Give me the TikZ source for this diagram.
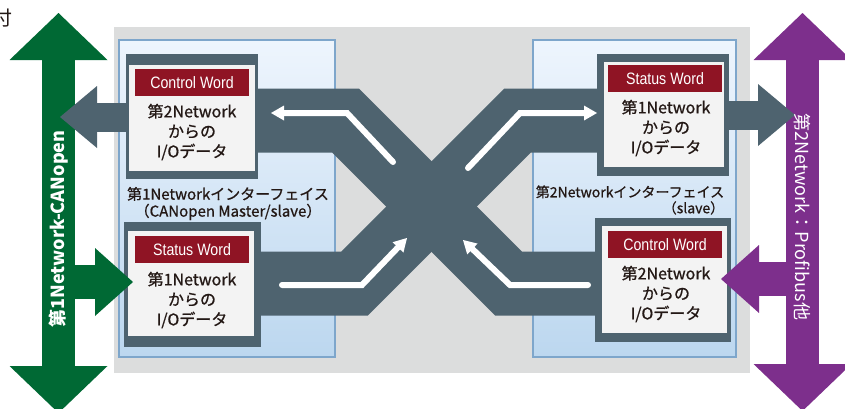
\documentclass[tikz,border=0pt]{standalone}
\usepackage{fontspec}
\setmainfont{Noto Sans CJK JP}
\newfontfamily\jpmid[FakeBold=0.8]{Noto Sans CJK JP}
\newfontfamily\condfont[FakeStretch=0.86]{Liberation Sans}
\usetikzlibrary{arrows.meta}
\definecolor{slate}{RGB}{78,99,111}
\definecolor{netgreen}{RGB}{0,105,52}
\definecolor{netpurple}{RGB}{125,47,140}
\definecolor{wordred}{RGB}{143,20,36}
\definecolor{bggray}{RGB}{220,221,221}
\definecolor{paneltop}{RGB}{238,245,253}
\definecolor{panelbot}{RGB}{188,215,239}
\definecolor{panelline}{RGB}{126,166,203}
\definecolor{cardfill}{RGB}{243,243,243}
\definecolor{ink}{RGB}{35,24,21}
\tikzset{
  panel/.style={draw=panelline,line width=1.5pt,top color=paneltop,bottom color=panelbot,inner sep=0pt},
  frame/.style={fill=slate,inner sep=0pt},
  card/.style={fill=cardfill,inner sep=0pt},
  word/.style={fill=wordred,text=white,inner sep=0pt,minimum width=114,minimum height=27,
    font=\condfont\fontsize{16.5}{16.5}\selectfont},
  data/.style={align=center,text=ink,inner sep=0pt,font=\jpmid\fontsize{16}{20}\selectfont},
  iflabel/.style={text=ink,inner sep=0pt,font=\jpmid\fontsize{15}{17}\selectfont},
  band/.style={draw=slate,line width=64pt,line join=miter},
  flow/.style={draw=white,line width=6pt,line cap=round,
    -{Triangle[length=13pt 0 0,width=15pt 0 0,line width=0pt]}},
  outarrow/.style={draw=slate,line width=29pt,-{Triangle[length=37pt 0 0,width=62pt 0 0,line width=0pt]}},
  tap/.style={line width=34pt,-{Triangle[length=38pt 0 0,width=68pt 0 0,line width=0pt]}},
  bus/.style={line width=33pt,{Triangle[length=47pt 0 0,width=98pt 0 0,line width=0pt]}-{Triangle[length=47pt 0 0,width=98pt 0 0,line width=0pt]}},
  busname/.style={text=white,inner sep=0pt,font=\fontsize{18}{18}\selectfont}
}
\begin{document}
\begin{tikzpicture}[x=1pt,y=-1pt]
\useasboundingbox (0,0) rectangle (845,408);
\node[text=ink,font=\fontsize{20}{20}\selectfont] (cut) at (3,18) {付};
% carrier and interface panels
\fill[bggray] (114,27) rectangle (750,373);
\node[panel,minimum width=216,minimum height=317] (lpanel) at (227,198.5) {};
\node[panel,minimum width=203,minimum height=317] (rpanel) at (634.5,198.5) {};
\node[iflabel,align=center] (lname) at (228,203.5) {第1Networkインターフェイス\\（CANopen Master/slave）};
\node[iflabel,align=right,font=\jpmid\fontsize{14}{16}\selectfont] (rname) at (630,200) {第2Networkインターフェイス\\（slave）};
% data boxes
\node[frame,minimum width=132,minimum height=125] (lcwF) at (192,116.5) {};
\node[frame,minimum width=137,minimum height=125] (lstsF) at (192.5,284.5) {};
\node[frame,minimum width=132,minimum height=122] (rstsF) at (663,115) {};
\node[frame,minimum width=136,minimum height=124] (rctlF) at (663,280) {};
\node[card,minimum width=126,minimum height=106] (lcwC) at (192,118) {};
\node[card,minimum width=126,minimum height=105] (lstsC) at (191,283.5) {};
\node[card,minimum width=120,minimum height=105] (rstsC) at (664,114.5) {};
\node[card,minimum width=125,minimum height=107] (rctlC) at (664.5,279.5) {};
\node[word] (lcwH) at (192,82.5) {Control Word};
\node[word] (lstsH) at (192,249.5) {Status Word};
\node[word] (rstsH) at (665,78.5) {Status Word};
\node[word] (rctlH) at (665,244.5) {Control Word};
\node[data] (lcw) at (192,132) {第2Network\\からの\\I/Oデータ};
\node[data] (lsts) at (192,300) {第1Network\\からの\\I/Oデータ};
\node[data] (rsts) at (666,128) {第1Network\\からの\\I/Oデータ};
\node[data] (rctl) at (666,294) {第2Network\\からの\\I/Oデータ};
% crossing bands
\coordinate (rowA) at (0,120.5);
\coordinate (rowB) at (0,283.5);
\draw[band] (lcwF.east |- rowA) -- (345.5,120.5) -- (508.5,283.5) -- (rctlF.west |- rowB);
\draw[band] (rstsF.west |- rowA) -- (517.5,120.5) -- (354.5,283.5) -- (lstsF.east |- rowB);
\coordinate (wTLa) at (393,162); \coordinate (wTLb) at (271,113);
\coordinate (wTRa) at (468,168); \coordinate (wTRb) at (597,113);
\coordinate (wBLa) at (282,285); \coordinate (wBLb) at (407,238);
\coordinate (wBRa) at (588,285); \coordinate (wBRb) at (463,240);
\draw[flow] (wTLa) -- (347,113) -- (wTLb);
\draw[flow] (wTRa) -- (520,113) -- (wTRb);
\draw[flow] (wBLa) -- (362,285) -- (wBLb);
\draw[flow] (wBRa) -- (510,285) -- (wBRb);
% networks
\coordinate (gtop) at (58.5,13); \coordinate (gbot) at (58.5,413);
\coordinate (ptop) at (802.5,13); \coordinate (pbot) at (802.5,411);
\draw[bus,netgreen] (gtop) -- (gbot);
\draw[bus,netpurple] (ptop) -- (pbot);
\coordinate (toCAN) at (60,117); \coordinate (toPB) at (795,115);
\coordinate (fromCAN) at (58.5,282); \coordinate (fromPB) at (802.5,279);
\coordinate (canIn) at (133,282); \coordinate (pbIn) at (721,279);
\draw[outarrow] (lcwF.west |- toCAN) -- (toCAN);
\draw[outarrow] (rstsF.east |- toPB) -- (toPB);
\draw[tap,netgreen] (fromCAN) -- (canIn);
\draw[tap,netpurple] (fromPB) -- (pbIn);
\node[busname,rotate=90,font=\bfseries\fontsize{18}{18}\selectfont] (canName) at (58.5,229) {第1Network-CANopen};
\node[busname,rotate=-90] (pbName) at (802.5,217) {第2Network：Profibus他};
\end{tikzpicture}
\end{document}
